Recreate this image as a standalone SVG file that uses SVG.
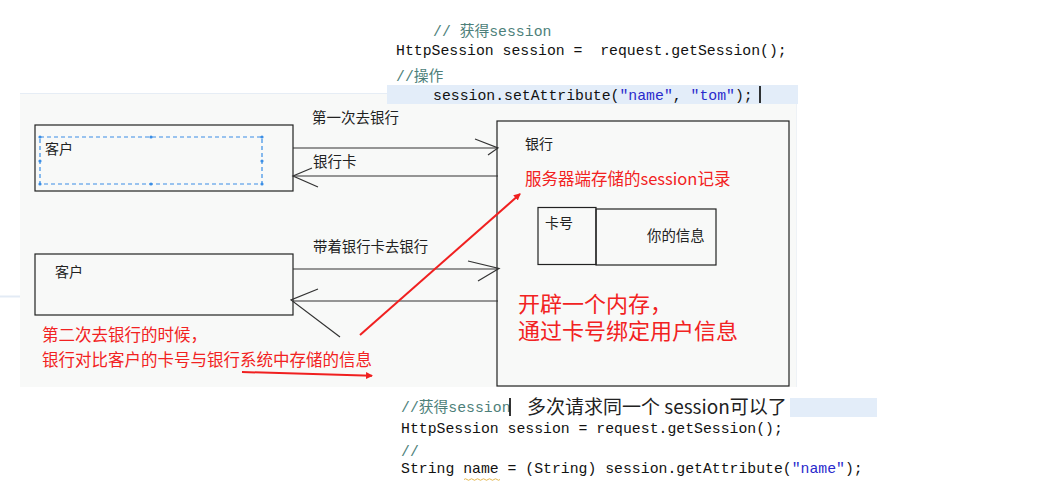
<svg xmlns="http://www.w3.org/2000/svg" width="1039" height="486" viewBox="0 0 1039 486">
<defs>
<style>
.cn{font-family:"Noto Sans CJK SC","Liberation Sans",sans-serif;fill:#222;}
.cnl{font-family:"Liberation Sans","Noto Sans CJK SC",sans-serif;}
.red{fill:#f22222;}
.code{font-family:"Liberation Mono","Noto Sans CJK SC",monospace;font-size:14.8px;fill:#111;white-space:pre;}
.cm{fill:#4d7f7a;}
.str{fill:#2a2acc;}
.box{fill:none;stroke:#222;stroke-width:1.2;}
.ln{fill:none;stroke:#333;stroke-width:1.2;}
.rl{fill:none;stroke:#f02020;stroke-width:2;}
</style>
<marker id="rh" markerWidth="8" markerHeight="8" refX="6" refY="4" orient="auto" markerUnits="userSpaceOnUse">
<path d="M0,0.5 L7,4 L0,7.5 Z" fill="#f02020"/>
</marker>
</defs>
<rect width="1039" height="486" fill="#ffffff"/>
<!-- main gray panel -->
<rect x="20" y="93" width="776" height="294" fill="#f8f9f8"/>
<line x1="20" y1="93.5" x2="796" y2="93.5" stroke="#e6edf5" stroke-width="1"/>
<line x1="796.5" y1="93" x2="796.5" y2="387" stroke="#eef2f6" stroke-width="1"/>
<line x1="0" y1="296.5" x2="20" y2="296.5" stroke="#e3ebf5" stroke-width="2"/>

<!-- top code panel -->
<g id="code-top">
<rect x="387" y="85" width="411" height="19" fill="#e3edf9"/>
<text class="code cm" x="433" y="36">// 获得session</text>
<text class="code" x="396" y="55">HttpSession session =  request.getSession();</text>
<text class="code cm" x="396" y="81">//操作</text>
<text class="code" x="433" y="100">session.setAttribute(<tspan class="str">"name"</tspan>, <tspan class="str">"tom"</tspan>);</text>
<line x1="760" y1="86" x2="760" y2="103" stroke="#000" stroke-width="1.6"/>
</g>

<!-- client 1 -->
<g id="client1">
<rect class="box" x="35" y="125" width="258" height="66"/>
<rect x="40" y="137" width="222" height="47" fill="none" stroke="#3a8ee6" stroke-width="1.2" stroke-dasharray="4 3"/>
<g fill="#3a8ee6">
<circle cx="40" cy="137" r="1.6"/><circle cx="151" cy="137" r="1.6"/><circle cx="262" cy="137" r="1.6"/>
<circle cx="40" cy="161" r="1.6"/><circle cx="262" cy="161" r="1.6"/>
<circle cx="40" cy="184" r="1.6"/><circle cx="151" cy="184" r="1.6"/><circle cx="262" cy="184" r="1.6"/>
</g>
<text class="cn" x="45" y="154" font-size="14">客户</text>
</g>

<!-- client 2 -->
<g id="client2">
<rect class="box" x="35" y="254" width="258" height="61"/>
<text class="cn" x="55" y="277" font-size="14">客户</text>
</g>

<!-- bank -->
<g id="bank">
<rect class="box" x="497" y="121" width="292" height="265"/>
<text class="cn" x="525" y="149" font-size="14">银行</text>
<text class="cn red" x="525" y="184.5" font-size="16.5">服务器端存储的session记录</text>
<rect class="box" x="538" y="207.5" width="58" height="57"/>
<rect class="box" x="596" y="209" width="120" height="56"/>
<text class="cn" x="545" y="228" font-size="14">卡号</text>
<text class="cn" x="647" y="240.5" font-size="14.4">你的信息</text>
<text class="cnl red" x="518" y="311.5" font-size="22">开辟一个内存，</text>
<text class="cnl red" x="518" y="338.5" font-size="22">通过卡号绑定用户信息</text>
</g>

<!-- connectors -->
<g id="connectors">
<line class="ln" x1="293" y1="148" x2="498" y2="148"/>
<path class="ln" d="M475,139 L498,148 L488,155"/>
<line class="ln" x1="498" y1="176" x2="293" y2="176"/>
<path class="ln" d="M312,168 L293,176 L318,187"/>
<line class="ln" x1="293" y1="269" x2="498" y2="269"/>
<path class="ln" d="M468,261 L499,268.5 L478,281"/>
<line class="ln" x1="498" y1="301" x2="293" y2="301"/>
<path class="ln" d="M318,289 L291,300 L340,337"/>
<line class="rl" x1="360" y1="335" x2="520" y2="194" marker-end="url(#rh)"/>
<line class="rl" x1="242" y1="372" x2="372" y2="375.7" marker-end="url(#rh)"/>
</g>

<!-- labels -->
<g id="labels">
<text class="cn" x="312" y="122.5" font-size="14.5">第一次去银行</text>
<text class="cn" x="313" y="167" font-size="14.5">银行卡</text>
<text class="cn" x="313" y="251.5" font-size="14.4">带着银行卡去银行</text>
<text class="cn red" x="42" y="341.3" font-size="16.5">第二次去银行的时候，</text>
<text class="cn red" x="42" y="365.6" font-size="16.5">银行对比客户的卡号与银行系统中存储的信息</text>
</g>

<!-- bottom code panel -->
<g id="code-bottom">
<rect x="790" y="398" width="87" height="19" fill="#e3edf9"/>
<text class="code cm" x="401" y="412">//获得session</text>
<line x1="510" y1="398" x2="510" y2="416" stroke="#000" stroke-width="1.6"/>
<text class="cn" x="527" y="413.5" font-size="19" fill="#111">多次请求同一个 session可以了</text>
<text class="code" x="401" y="433">HttpSession session = request.getSession();</text>
<text class="code cm" x="401" y="456">//</text>
<text class="code" x="401" y="473">String name = (String) session.getAttribute(<tspan class="str">"name"</tspan>);</text>
<path d="M464,479.5 q1.5,-1.5 3,0 t3,0 t3,0 t3,0 t3,0 t3,0 t3,0 t3,0 t3,0 t3,0 t3,0 t3,0" fill="none" stroke="#e0b040" stroke-width="0.9"/>
</g>
</svg>
